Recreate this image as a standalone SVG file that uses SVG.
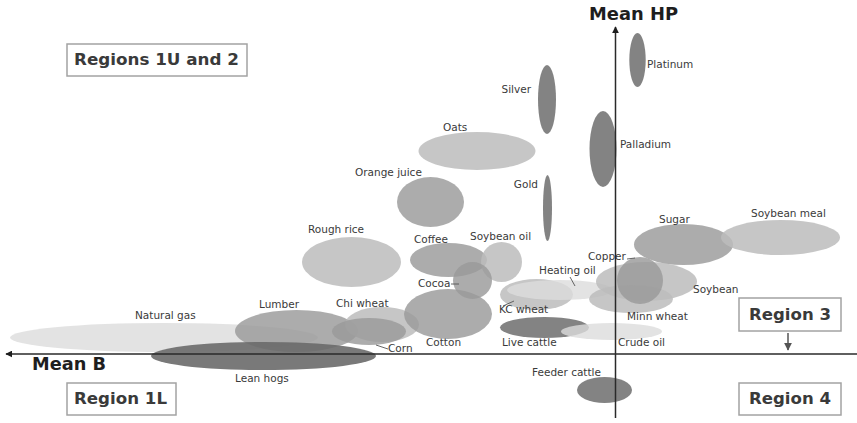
<svg xmlns="http://www.w3.org/2000/svg" width="857" height="423" viewBox="0 0 857 423">
<style>
  .d{fill:#7c7c7c;fill-opacity:0.95}
  .dk{fill:#6a6a6a;fill-opacity:0.9}
  .m{fill:#9a9a9a;fill-opacity:0.82}
  .l{fill:#bcbcbc;fill-opacity:0.85}
  .vl{fill:#dcdcdc;fill-opacity:0.8}
  .lbl{font-family:"DejaVu Sans",Verdana,sans-serif;font-size:10.5px;fill:#3a3a3a}
  .ax{font-family:"DejaVu Sans",Verdana,sans-serif;font-size:17.5px;font-weight:bold;fill:#1e1e1e}
  .rg{font-family:"DejaVu Sans",Verdana,sans-serif;font-size:16px;font-weight:bold;fill:#3a3a3a}
  .box{fill:#ffffff;stroke:#a3a3a3;stroke-width:1.5}
  .axis{stroke:#2a2a2a;stroke-width:1.5;fill:none}
  .lead{stroke:#555;stroke-width:0.9;fill:none}
</style>
<defs>
  <marker id="ah" viewBox="0 0 10 10" refX="9" refY="5" markerWidth="7" markerHeight="7" markerUnits="userSpaceOnUse" orient="auto">
    <path d="M0,0 L10,5 L0,10 z" fill="#1e1e1e"/>
  </marker>
  <marker id="ah2" viewBox="0 0 10 10" refX="9" refY="5" markerWidth="8" markerHeight="8" markerUnits="userSpaceOnUse" orient="auto">
    <path d="M0,0 L10,5 L0,10 z" fill="#555"/>
  </marker>
</defs>

<g id="natural-gas"><ellipse class="vl" cx="164" cy="337.5" rx="154" ry="14.5"/><text class="lbl" x="135" y="319">Natural gas</text></g>
<g id="lumber"><ellipse class="m" cx="296.5" cy="331" rx="61.5" ry="21"/><text class="lbl" x="259" y="308">Lumber</text></g>
<g id="lean-hogs"><ellipse class="dk" cx="263.5" cy="356" rx="112.5" ry="14"/><text class="lbl" x="235" y="382">Lean hogs</text></g>
<g id="chi-wheat"><ellipse class="l" cx="382" cy="324.5" rx="37" ry="17.5"/><text class="lbl" x="336" y="307">Chi wheat</text></g>
<g id="corn"><ellipse class="m" cx="369" cy="331.5" rx="37" ry="13.5"/><text class="lbl" x="388" y="352">Corn</text></g>
<g id="rough-rice"><ellipse class="l" cx="351.5" cy="262" rx="49.5" ry="25"/><text class="lbl" x="308" y="233">Rough rice</text></g>
<g id="orange-juice"><ellipse class="m" cx="430.5" cy="202" rx="33.5" ry="25"/><text class="lbl" x="355" y="176">Orange juice</text></g>
<g id="oats"><ellipse class="l" cx="477" cy="151" rx="58.5" ry="19"/><text class="lbl" x="443" y="131">Oats</text></g>
<g id="coffee"><ellipse class="m" cx="448.5" cy="260" rx="38.5" ry="17"/><text class="lbl" x="414" y="243">Coffee</text></g>
<g id="soybean-oil"><ellipse class="l" cx="501.5" cy="262" rx="20.5" ry="20"/><text class="lbl" x="470" y="240">Soybean oil</text></g>
<g id="cotton"><ellipse class="m" cx="448" cy="314" rx="44" ry="25"/><text class="lbl" x="426" y="346">Cotton</text></g>
<g id="cocoa"><ellipse class="m" cx="472.5" cy="280.5" rx="19.5" ry="18.5"/><text class="lbl" x="418" y="287">Cocoa</text></g>
<g id="kc-wheat"><ellipse class="l" cx="536.5" cy="294.5" rx="36.5" ry="15.5"/><text class="lbl" x="499" y="313">KC wheat</text></g>
<g id="heating-oil"><ellipse class="vl" cx="560" cy="290" rx="53" ry="10"/><text class="lbl" x="539" y="274">Heating oil</text></g>
<g id="live-cattle"><ellipse class="d" cx="544.5" cy="327.5" rx="44.5" ry="10.5"/><text class="lbl" x="502" y="346">Live cattle</text></g>
<g id="crude-oil"><ellipse class="vl" cx="611.5" cy="331.5" rx="50.5" ry="8.5"/><text class="lbl" x="618" y="346">Crude oil</text></g>
<g id="soybean"><ellipse class="l" cx="646.5" cy="281.5" rx="50.5" ry="19.5"/><text class="lbl" x="693" y="293">Soybean</text></g>
<g id="minn-wheat"><ellipse class="l" cx="631" cy="299" rx="42" ry="14"/><text class="lbl" x="627" y="320">Minn wheat</text></g>
<g id="copper"><ellipse class="m" cx="640" cy="280.5" rx="23" ry="23.5"/><text class="lbl" x="588" y="260">Copper</text></g>
<g id="sugar"><ellipse class="m" cx="683.5" cy="244.5" rx="49.5" ry="20.5"/><text class="lbl" x="659" y="223">Sugar</text></g>
<g id="soybean-meal"><ellipse class="l" cx="780.5" cy="237.5" rx="59.5" ry="17.5"/><text class="lbl" x="751" y="217">Soybean meal</text></g>
<g id="silver"><ellipse class="d" cx="547" cy="99.5" rx="9" ry="34.5"/><text class="lbl" x="531" y="93" text-anchor="end">Silver</text></g>
<g id="gold"><ellipse class="d" cx="547.5" cy="208" rx="4.5" ry="33"/><text class="lbl" x="538" y="188" text-anchor="end">Gold</text></g>
<g id="palladium"><ellipse class="d" cx="603" cy="149" rx="13.5" ry="38"/><text class="lbl" x="620" y="148">Palladium</text></g>
<g id="platinum"><ellipse class="d" cx="637.5" cy="60" rx="8.2" ry="27"/><text class="lbl" x="647" y="68">Platinum</text></g>
<g id="feeder-cattle"><ellipse class="d" cx="604.5" cy="390" rx="27.5" ry="13"/><text class="lbl" x="532" y="376">Feeder cattle</text></g>

<g id="connectors">
  <line class="axis" x1="615.5" y1="418" x2="615.5" y2="27" marker-end="url(#ah)"/>
  <line class="axis" x1="857" y1="354" x2="6" y2="354" marker-end="url(#ah)"/>
  <line class="lead" x1="451" y1="284" x2="459" y2="284"/>
  <line class="lead" x1="570" y1="277" x2="575" y2="286"/>
  <line class="lead" x1="503" y1="306" x2="514" y2="301"/>
  <line class="lead" x1="627" y1="259" x2="635" y2="258"/>
  <line class="lead" x1="376" y1="345" x2="388" y2="349"/>
  <line stroke="#555" stroke-width="1.5" x1="788" y1="333" x2="788" y2="350" marker-end="url(#ah2)"/>
</g>

<g id="axis-hp"><text class="ax" x="589" y="20" textLength="89" lengthAdjust="spacingAndGlyphs">Mean HP</text></g>
<g id="axis-b"><text class="ax" x="32" y="370" textLength="74" lengthAdjust="spacingAndGlyphs">Mean B</text></g>

<g id="region-1u2"><rect class="box" x="67" y="44" width="180" height="32"/><text class="rg" x="74" y="65" textLength="165" lengthAdjust="spacingAndGlyphs">Regions 1U and 2</text></g>
<g id="region-1l"><rect class="box" x="67" y="383" width="109" height="32"/><text class="rg" x="74" y="404" textLength="93" lengthAdjust="spacingAndGlyphs">Region 1L</text></g>
<g id="region-3"><rect class="box" x="739" y="298" width="102" height="33"/><text class="rg" x="749" y="320" textLength="82" lengthAdjust="spacingAndGlyphs">Region 3</text></g>
<g id="region-4"><rect class="box" x="739" y="383" width="102" height="32"/><text class="rg" x="749" y="404" textLength="82" lengthAdjust="spacingAndGlyphs">Region 4</text></g>
</svg>
